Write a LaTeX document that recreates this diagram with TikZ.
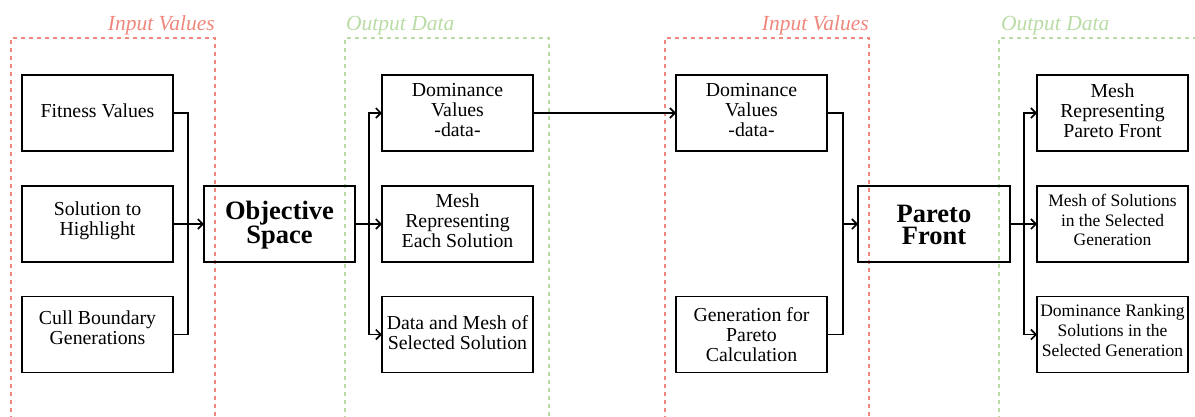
\documentclass[tikz,border=0pt]{standalone}
\usepackage{fontspec}
\setmainfont{Liberation Serif}
\usetikzlibrary{arrows.meta}

\definecolor{inred}{RGB}{240,135,125}
\definecolor{outgreen}{RGB}{185,220,165}

\tikzset{
  box/.style={draw, line width=1.5pt, minimum width=151pt, minimum height=76pt,
              inner sep=0pt, outer sep=0pt},
  txt/.style={align=center, inner sep=0pt, font=\fontsize{19.8}{19.8}\selectfont},
  smalltxt/.style={txt, font=\fontsize{17.5}{19.6}\selectfont},
  bigtxt/.style={align=center, inner sep=0pt, font=\fontsize{26.5}{22}\selectfont\bfseries},
  grouplbl/.style={inner sep=0pt, font=\fontsize{21.5}{22}\selectfont\itshape},
  frame/.style={line width=1.3pt, dash pattern=on 4pt off 4pt},
  link/.style={line width=1.5pt},
  flow/.style={line width=1.5pt, -{Straight Barb[length=5pt,width=10pt,line width=1.6pt]}},
}

\begin{document}
\begin{tikzpicture}[x=1pt, y=-1pt]
\useasboundingbox (0,0) rectangle (1195,416);

% dashed group frames, open at the bottom
\draw[frame, inred]    (11,420)  -- (11,38)  -- (215,38)  -- (215,420);
\draw[frame, outgreen] (345,420) -- (345,38) -- (549,38)  -- (549,420);
\draw[frame, inred]    (665,420) -- (665,38) -- (869,38)  -- (869,420);
\draw[frame, outgreen] (999,420) -- (999,38) -- (1200,38);

\node[grouplbl, inred,    anchor=base east] (lblin1)  at (215,30) {Input Values};
\node[grouplbl, outgreen, anchor=base west] (lblout1) at (346,30) {Output Data};
\node[grouplbl, inred,    anchor=base east] (lblin2)  at (869,30) {Input Values};
\node[grouplbl, outgreen, anchor=base west] (lblout2) at (1001,30) {Output Data};

% boxes
\node[box] (fit)  at (97.5,113)   {};
\node[box] (sol)  at (97.5,224)   {};
\node[box] (cull) at (97.5,334.5) {};
\node[box] (obj)  at (279.5,224)  {};
\node[box] (dom1) at (457.5,113)   {};
\node[box] (mesh) at (457.5,224)   {};
\node[box] (dms)  at (457.5,334.5) {};
\node[box] (dom2) at (751.5,113)   {};
\node[box] (gen)  at (751.5,334.5) {};
\node[box, minimum width=152pt] (par) at (934,224) {};
\node[box] (mpf)  at (1112.5,113)   {};
\node[box] (msg)  at (1112.5,224)   {};
\node[box] (drk)  at (1112.5,334.5) {};

% box texts
\node[txt] (fit-t)  at ([yshift=2pt]fit.center)    {Fitness Values};
\node[txt] (sol-t)  at ([yshift=3pt]sol.center)    {Solution to\\Highlight};
\node[txt] (cull-t) at ([yshift=7pt]cull.center)   {Cull Boundary\\Generations};
\node[bigtxt] (obj-t) at ([yshift=-1pt]obj.center) {Objective\\Space};
\node[txt] (dom1-t) at ([yshift=3pt]dom1.center)   {Dominance\\Values\\-data-};
\node[txt] (mesh-t) at ([yshift=3pt]mesh.center)   {Mesh\\Representing\\Each Solution};
\node[txt] (dms-t)  at ([yshift=2pt]dms.center)    {Data and Mesh of\\Selected Solution};
\node[txt] (dom2-t) at ([yshift=3pt]dom2.center)   {Dominance\\Values\\-data-};
\node[txt] (gen-t)  at ([yshift=0pt]gen.center)    {Generation for\\Pareto\\Calculation};
\node[bigtxt] (par-t) at ([yshift=-1pt]par.center) {Pareto\\Front};
\node[txt] (mpf-t)  at ([yshift=2pt]mpf.center)    {Mesh\\Representing\\Pareto Front};
\node[smalltxt] (msg-t) at ([yshift=4pt]msg.center) {Mesh of Solutions\\in the Selected\\Generation};
\node[smalltxt] (drk-t) at ([yshift=4pt]drk.center) {Dominance Ranking\\Solutions in the\\Selected Generation};

% junction points
\coordinate (j1) at (188,224);
\coordinate (j2) at (369,224);
\coordinate (j3) at (843,224);
\coordinate (j4) at (1024,224);

% inputs into Objective Space
\draw[link] (fit.east)  -| (j1);
\draw[link] (cull.east) -| (j1);
\draw[flow] (sol.east) -- (obj.west);

% outputs of Objective Space
\draw[link] (obj.east) -- (j2);
\draw[flow] (j2) |- (dom1.west);
\draw[flow] (j2) -- (mesh.west);
\draw[flow] (j2) |- (dms.west);

% dominance data handed on
\draw[flow] (dom1.east) -- (dom2.west);

% inputs into Pareto Front
\draw[link] (dom2.east) -| (j3);
\draw[link] (gen.east)  -| (j3);
\draw[flow] (j3) -- (par.west);

% outputs of Pareto Front
\draw[link] (par.east) -- (j4);
\draw[flow] (j4) |- (mpf.west);
\draw[flow] (j4) -- (msg.west);
\draw[flow] (j4) |- (drk.west);
\end{tikzpicture}
\end{document}
